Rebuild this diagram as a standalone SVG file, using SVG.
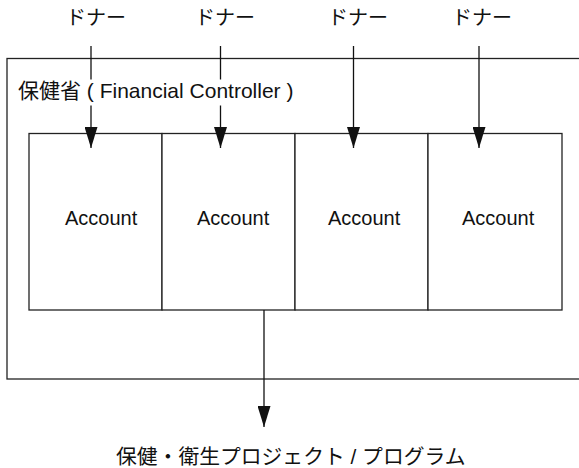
<svg xmlns="http://www.w3.org/2000/svg" width="579" height="468" viewBox="0 0 579 468">
<style>
.box{fill:#fff;stroke:#222;stroke-width:1.3}
.frame{fill:none;stroke:#222;stroke-width:1.3}
.t{font-family:"Liberation Sans","Noto Sans CJK JP",sans-serif;font-size:20px;fill:#111}
.c{stroke:#111;stroke-width:1.3;fill:none;marker-end:url(#ah)}
</style>
<defs>
<marker id="ah" markerUnits="userSpaceOnUse" markerWidth="21" markerHeight="13" refX="21" refY="6.5" orient="auto" viewBox="0 0 21 13">
<path d="M0,0 L21,6.5 L0,13 z" fill="#111"/>
</marker>
</defs>
<rect width="579" height="468" fill="#fff"/>
<g id="moh">
<rect class="frame" x="7" y="58.5" width="590" height="320.5"/>
</g>
<g id="acct1"><rect class="box" x="29" y="133.5" width="133" height="176.5"/><text class="t" x="65" y="225">Account</text></g>
<g id="acct2"><rect class="box" x="162" y="133.5" width="133" height="176.5"/><text class="t" x="197" y="225">Account</text></g>
<g id="acct3"><rect class="box" x="295" y="133.5" width="133" height="176.5"/><text class="t" x="328" y="225">Account</text></g>
<g id="acct4"><rect class="box" x="428" y="133.5" width="134" height="176.5"/><text class="t" x="462" y="225">Account</text></g>
<g id="connectors">
<line class="c" x1="91" y1="46" x2="91" y2="148"/>
<line class="c" x1="220.5" y1="46" x2="220.5" y2="148"/>
<line class="c" x1="353.5" y1="46" x2="353.5" y2="148"/>
<line class="c" x1="479" y1="46" x2="479" y2="148"/>
<line class="c" x1="264" y1="310" x2="264" y2="427"/>
</g>
<g id="moh-label">
<rect x="14" y="79.5" width="284" height="26" fill="#fff"/>
<text class="t" x="18" y="98" style="font-size:21px">保健省 ( Financial Controller )</text>
</g>
<g id="donor1"><text class="t" x="66" y="25">ドナー</text></g>
<g id="donor2"><text class="t" x="195" y="25">ドナー</text></g>
<g id="donor3"><text class="t" x="328" y="25">ドナー</text></g>
<g id="donor4"><text class="t" x="452" y="25">ドナー</text></g>
<g id="output"><text class="t" x="116" y="464" style="font-size:20.8px">保健・衛生プロジェクト / プログラム</text></g>
</svg>
